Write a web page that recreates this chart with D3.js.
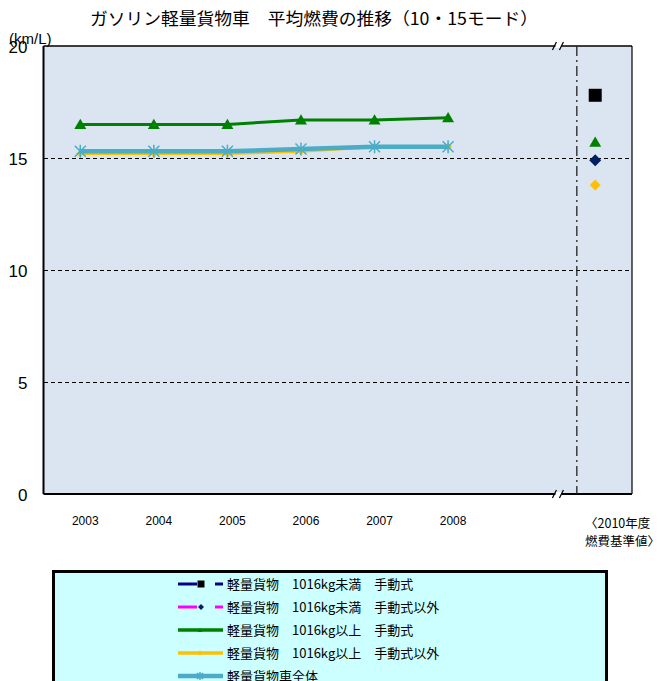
<!DOCTYPE html>
<html><head><meta charset="utf-8">
<script src="https://cdn.jsdelivr.net/npm/d3@7"></script>
<style>
body{margin:0;background:#fff;}
</style>
</head><body>
<script>
// ---- data ----
const years = ["2003","2004","2005","2006","2007","2008"];
const yTicks = [0,5,10,15,20];
const seriesNames = [
  "軽量貨物　1016kg未満　手動式",
  "軽量貨物　1016kg未満　手動式以外",
  "軽量貨物　1016kg以上　手動式",
  "軽量貨物　1016kg以上　手動式以外",
  "軽量貨物車全体"
];
const mtUnder = [null,null,null,null,null,null];
const atUnder = [null,null,null,null,null,null];
const mtOver  = [16.5,16.5,16.5,16.7,16.7,16.8];
const atOver  = [15.2,15.2,15.2,15.3,15.5,15.5];
const allCars = [15.3,15.3,15.3,15.4,15.5,15.5];
const standard2010 = [17.8,14.9,15.7,13.8,null];
const standardLabel = ["〈2010年度","燃費基準値〉"];
const titleText = "ガソリン軽量貨物車　平均燃費の推移（10・15モード）";
const unitText = "(km/L)";

// ---- styles ----
const lineColors  = ["#000080","#FF00FF","#008000","#FFC000","#4BACC6"];
const markColors  = ["#000000","#002060","#008000","#FFC000","#4BACC6"];
const markShapes  = ["square","diamond","triangle","diamond","star"];
const lineWidths  = [3,3,3,3,4.5];
const values = [mtUnder, atUnder, mtOver, atOver, allCars];

const W=664,H=681;
const svg=d3.select("body").append("svg").attr("width",W).attr("height",H);

const L=43.5,R=632,T=46,B=494;
const x=d3.scaleLinear().domain([-0.5,7.5]).range([L,R]);
const y=d3.scaleLinear().domain([0,20]).range([B,T]);
const stdIndex=7, breakIndex=6.5, sepIndex=6.75;

// plot background
svg.append("rect").attr("x",L).attr("y",T).attr("width",R-L).attr("height",B-T).attr("fill","#DBE5F1");

// gridlines
svg.append("g").selectAll("line").data(yTicks.filter(d=>d>0&&d<20)).join("line")
  .attr("x1",L).attr("x2",R).attr("y1",d=>Math.round(y(d))+0.5).attr("y2",d=>Math.round(y(d))+0.5)
  .attr("stroke","#000").attr("stroke-width",1).attr("stroke-dasharray","4,3")
  .attr("shape-rendering","crispEdges");

// frame
svg.append("line").attr("x1",L).attr("x2",R).attr("y1",T).attr("y2",T).attr("stroke","#000").attr("stroke-width",1.5);
svg.append("line").attr("x1",L).attr("x2",R).attr("y1",B).attr("y2",B).attr("stroke","#000").attr("stroke-width",2);
svg.append("line").attr("x1",R).attr("x2",R).attr("y1",T).attr("y2",B).attr("stroke","#000").attr("stroke-width",1.2);
svg.append("line").attr("x1",L).attr("x2",L).attr("y1",T).attr("y2",B).attr("stroke","#000").attr("stroke-width",2);

// break marks
[T,B].forEach(yy=>{
  const bx=x(breakIndex);
  svg.append("rect").attr("x",bx-3).attr("y",yy-2).attr("width",6).attr("height",4).attr("fill","#fff");
  [-4,3].forEach(o=>{
    svg.append("line").attr("x1",bx+o-2).attr("x2",bx+o+2).attr("y1",yy+4).attr("y2",yy-4)
      .attr("stroke","#000").attr("stroke-width",1.2);
  });
});

// dash-dot separator
svg.append("line").attr("x1",x(sepIndex)).attr("x2",x(sepIndex)).attr("y1",T).attr("y2",B)
  .attr("stroke","#222").attr("stroke-width",1.3).attr("stroke-dasharray","10,4,2,4");

// y axis
const yAxis=d3.axisLeft(y).tickValues(yTicks).tickSize(0).tickPadding(16);
const ya=svg.append("g").attr("transform",`translate(${L},0)`).call(yAxis);
ya.select(".domain").remove();
ya.selectAll("text").attr("font-family","Liberation Sans, Arial, sans-serif").attr("font-size",17).attr("fill","#000").attr("dy","0.36em");

// x labels
svg.append("g").selectAll("text").data(years).join("text")
  .attr("x",(d,i)=>x(i)+5).attr("y",525).attr("text-anchor","middle")
  .attr("font-family","Liberation Sans, Arial, sans-serif").attr("font-size",12).attr("fill","#000").text(d=>d);

// standard label
svg.append("g").selectAll("text").data(standardLabel).join("text")
  .attr("x",585).attr("y",(d,i)=>528+i*18)
  .attr("font-family","Noto Sans CJK JP").attr("font-size",12.5).attr("fill","#000").text(d=>d);

// title
svg.append("text").attr("x",314).attr("y",25).attr("text-anchor","middle")
  .attr("font-family","Noto Sans CJK JP").attr("font-size",17).attr("fill","#000")
  .attr("textLength",448).attr("lengthAdjust","spacingAndGlyphs").text(titleText);
svg.append("text").attr("x",9).attr("y",44)
  .attr("font-family","Liberation Sans, Arial, sans-serif").attr("font-size",15).attr("fill","#000").text(unitText);

// marker drawer
function marker(g,shape,cx,cy,size,color){
  if(shape==="square"){
    g.append("rect").attr("x",cx-size/2).attr("y",cy-size/2).attr("width",size).attr("height",size).attr("fill",color);
  }else if(shape==="diamond"){
    const s=size/2;
    g.append("path").attr("d",`M${cx},${cy-s}L${cx+s},${cy}L${cx},${cy+s}L${cx-s},${cy}Z`).attr("fill",color);
  }else if(shape==="triangle"){
    const s=size/2;
    g.append("path").attr("d",`M${cx},${cy-s*0.95}L${cx+s},${cy+s*0.75}L${cx-s},${cy+s*0.75}Z`).attr("fill",color);
  }else if(shape==="star"){
    const s=size/2;
    g.append("path").attr("d",`M${cx-s},${cy-s}L${cx+s},${cy+s}M${cx-s},${cy+s}L${cx+s},${cy-s}M${cx},${cy-s-1}L${cx},${cy+s+1}`)
      .attr("stroke",color).attr("stroke-width",1.5).attr("fill","none");
  }
}

// series lines
const line=d3.line().defined(d=>d!=null).x((d,i)=>x(i)).y(d=>y(d));
[0,1,2,3,4].forEach(si=>{
  const vals=values[si];
  const g=svg.append("g");
  g.append("path").datum(vals).attr("d",line).attr("fill","none")
    .attr("stroke",lineColors[si]).attr("stroke-width",lineWidths[si]);
  const msize = si===2?12: si===3?8: 11;
  vals.forEach((v,i)=>{ if(v!=null) marker(g,markShapes[si],x(i),y(v),msize,markColors[si]); });
});

// 2010 standards
const stdSizes=[13,12,12,11,10];
standard2010.forEach((v,si)=>{
  if(v!=null) marker(svg.append("g"),markShapes[si],x(stdIndex),y(v),stdSizes[si],markColors[si]);
});

// legend
const lg=svg.append("g");
lg.append("rect").attr("x",53.5).attr("y",571.5).attr("width",553).attr("height",130)
  .attr("fill","#CCFFFF").attr("stroke","#000").attr("stroke-width",3);
seriesNames.forEach((name,si)=>{
  const yy=584+si*23;
  const g=lg.append("g");
  if(si<2){
    g.append("line").attr("x1",178).attr("x2",197).attr("y1",yy).attr("y2",yy).attr("stroke",lineColors[si]).attr("stroke-width",3);
    g.append("line").attr("x1",215).attr("x2",223).attr("y1",yy).attr("y2",yy).attr("stroke",lineColors[si]).attr("stroke-width",3);
    marker(g,markShapes[si],201,yy,si===0?7:6,markColors[si]);
  }else{
    g.append("line").attr("x1",178).attr("x2",223).attr("y1",yy).attr("y2",yy).attr("stroke",lineColors[si]).attr("stroke-width",si===4?4.5:3.5);
    marker(g,markShapes[si],200,yy,si===4?6:5,markColors[si]);
  }
  g.append("text").attr("x",227).attr("y",yy).attr("dy","0.36em")
    .attr("font-family","Noto Sans CJK JP").attr("font-size",13).attr("fill","#000").text(name);
});
</script>
</body></html>
